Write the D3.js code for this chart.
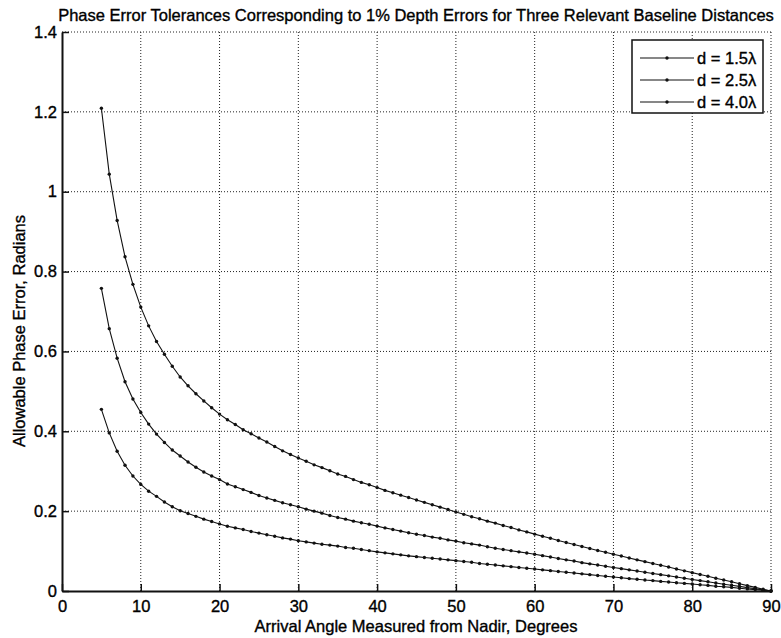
<!DOCTYPE html>
<html>
<head>
<meta charset="utf-8">
<script src="https://d3js.org/d3.v7.min.js"></script>
<style>
  body { margin: 0; background: #fff; }
  text { font-family: "Liberation Sans", Arial, sans-serif; fill: #000; stroke: #000; stroke-width: 0.35px; }
</style>
</head>
<body>
<svg id="chart" width="781" height="638"></svg>
<script>
// arrival angles, degrees (5..90 in 1 degree steps)
var angles = d3.range(5, 91);

var err15 = [0.455,0.396,0.350,0.315,0.288,0.267,0.250,0.237,0.223,0.211,
  0.201,0.194,0.187,0.180,0.174,0.168,0.162,0.158,0.154,0.149,
  0.145,0.141,0.137,0.133,0.130,0.126,0.123,0.120,0.117,0.115,
  0.1125,0.109,0.107,0.104,0.101,0.098,0.0955,0.093,0.0905,0.088,
  0.086,0.084,0.082,0.080,0.078,0.076,0.074,0.072,0.069,0.067,
  0.065,0.063,0.061,0.059,0.057,0.055,0.053,0.051,0.049,0.047,
  0.045,0.043,0.041,0.039,0.037,0.035,0.033,0.031,0.0295,0.0275,
  0.026,0.024,0.0225,0.0205,0.019,0.0175,0.0155,0.014,0.012,0.0105,
  0.009,0.007,0.0052,0.0035,0.0017,0];

var err25 = [0.758,0.657,0.583,0.524,0.481,0.447,0.418,0.393,0.372,0.353,
  0.338,0.323,0.310,0.298,0.288,0.279,0.268,0.261,0.254,0.247,
  0.239,0.233,0.227,0.221,0.216,0.211,0.205,0.200,0.195,0.189,
  0.184,0.180,0.175,0.171,0.167,0.1625,0.158,0.154,0.150,0.146,
  0.142,0.139,0.135,0.132,0.128,0.125,0.121,0.118,0.115,0.111,
  0.107,0.104,0.101,0.098,0.095,0.092,0.0885,0.085,0.0815,0.078,
  0.075,0.071,0.068,0.065,0.062,0.059,0.056,0.053,0.050,0.047,
  0.044,0.041,0.038,0.035,0.032,0.029,0.026,0.023,0.020,0.017,
  0.0145,0.0115,0.0085,0.0057,0.0028,0];

var err40 = [1.209,1.044,0.928,0.837,0.768,0.711,0.664,0.625,0.593,0.563,
  0.536,0.514,0.494,0.476,0.459,0.443,0.429,0.417,0.404,0.394,
  0.383,0.373,0.362,0.351,0.342,0.333,0.325,0.316,0.309,0.301,
  0.293,0.287,0.279,0.272,0.266,0.259,0.252,0.246,0.240,0.234,
  0.228,0.222,0.216,0.210,0.204,0.198,0.192,0.186,0.181,0.175,
  0.170,0.164,0.159,0.153,0.148,0.1425,0.137,0.132,0.1265,0.1215,
  0.1165,0.1115,0.1065,0.1015,0.097,0.092,0.0875,0.0825,0.078,0.0735,
  0.069,0.0645,0.060,0.055,0.0505,0.046,0.0415,0.037,0.032,0.0275,
  0.023,0.018,0.0135,0.009,0.0045,0];

var seriesNames = ["d = 1.5\u03bb", "d = 2.5\u03bb", "d = 4.0\u03bb"];
var seriesValues = [err15, err25, err40];
var xTicks = [0, 10, 20, 30, 40, 50, 60, 70, 80, 90];
var yTicks = [0, 0.2, 0.4, 0.6, 0.8, 1, 1.2, 1.4];

var plotLeft = 62, plotRight = 771, plotTop = 32, plotBottom = 591;
var svg = d3.select("#chart");

var x = d3.scaleLinear().domain([0, 90]).range([plotLeft, plotRight]);
var y = d3.scaleLinear().domain([0, 1.4]).range([plotBottom, plotTop]);

// grid
svg.append("g").selectAll("line").data(xTicks.slice(1)).join("line")
  .attr("x1", function(d){ return x(d); }).attr("x2", function(d){ return x(d); })
  .attr("y1", plotTop).attr("y2", plotBottom)
  .attr("stroke", "#222").attr("stroke-width", 1).attr("stroke-dasharray", "1,2");
svg.append("g").selectAll("line").data(yTicks.slice(1)).join("line")
  .attr("x1", plotLeft).attr("x2", plotRight)
  .attr("y1", function(d){ return y(d); }).attr("y2", function(d){ return y(d); })
  .attr("stroke", "#222").attr("stroke-width", 1).attr("stroke-dasharray", "1,2");

// axes
var xAxis = d3.axisBottom(x).tickValues(xTicks).tickFormat(d3.format("d"))
  .tickSizeInner(-7).tickSizeOuter(0).tickPadding(9);
var gx = svg.append("g").attr("transform", "translate(0," + plotBottom + ")").call(xAxis);
gx.select(".domain").attr("stroke", "#111").attr("stroke-width", 2);
gx.selectAll(".tick line").attr("stroke", "#111").attr("stroke-width", 1.5);
gx.selectAll("text").style("font-size", "16.5px").attr("fill", "#000");

var yAxis = d3.axisLeft(y).tickValues(yTicks)
  .tickFormat(function(d){ return d === 0 || d === 1 ? String(d) : d3.format(".1f")(d); })
  .tickSizeInner(-7).tickSizeOuter(0).tickPadding(5);
var gy = svg.append("g").attr("transform", "translate(" + plotLeft + ",0)").call(yAxis);
gy.select(".domain").attr("stroke", "#111").attr("stroke-width", 2);
gy.selectAll(".tick line").attr("stroke", "#111").attr("stroke-width", 1.5);
gy.selectAll("text").style("font-size", "16.5px").attr("fill", "#000");

// curves
var line = d3.line()
  .x(function(d, i){ return x(angles[i]); })
  .y(function(d){ return y(d); });

seriesValues.forEach(function(vals){
  svg.append("path").attr("d", line(vals))
    .attr("fill", "none").attr("stroke", "#111").attr("stroke-width", 1.1);
  svg.append("g").selectAll("circle").data(vals).join("circle")
    .attr("cx", function(d, i){ return x(angles[i]); })
    .attr("cy", function(d){ return y(d); })
    .attr("r", 1.7).attr("fill", "#111");
});

// legend
var lg = svg.append("g");
lg.append("rect").attr("x", 632).attr("y", 40).attr("width", 131).attr("height", 73)
  .attr("fill", "#fff").attr("stroke", "#111").attr("stroke-width", 1.5);
seriesNames.forEach(function(name, i){
  var ly = 58 + i * 22;
  lg.append("line").attr("x1", 640).attr("x2", 694).attr("y1", ly).attr("y2", ly)
    .attr("stroke", "#111").attr("stroke-width", 1.1);
  lg.append("circle").attr("cx", 667).attr("cy", ly).attr("r", 1.7).attr("fill", "#111");
  lg.append("text").attr("x", 697).attr("y", ly + 6).style("font-size", "16.5px").text(name);
});

// titles
svg.append("text").attr("x", 416).attr("y", 21).attr("text-anchor", "middle")
  .style("font-size", "16.5px").text("Phase Error Tolerances Corresponding to 1% Depth Errors for Three Relevant Baseline Distances");
svg.append("text").attr("x", 416).attr("y", 632).attr("text-anchor", "middle")
  .style("font-size", "16.5px").text("Arrival Angle Measured from Nadir, Degrees");
svg.append("text").attr("transform", "translate(25,331) rotate(-90)").attr("text-anchor", "middle")
  .style("font-size", "16.5px").text("Allowable Phase Error, Radians");
</script>
</body>
</html>
